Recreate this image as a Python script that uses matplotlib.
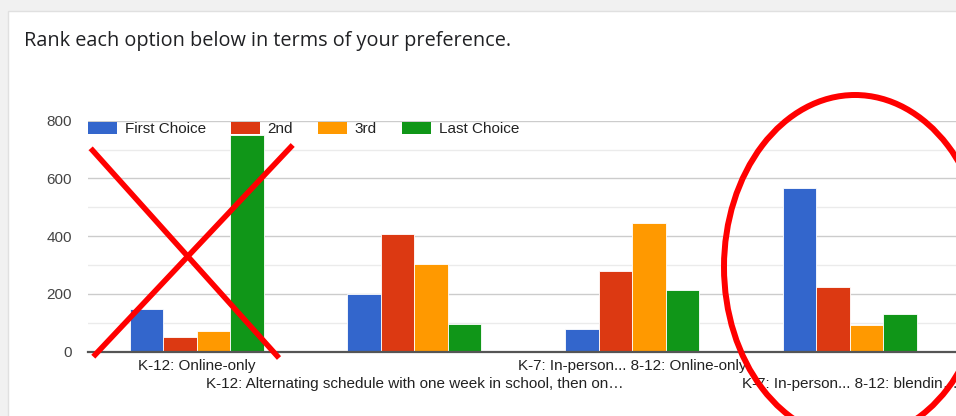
import matplotlib
matplotlib.use("Agg")
import matplotlib.pyplot as plt
import numpy as np
from matplotlib.patches import Rectangle, Ellipse, Patch
from matplotlib.lines import Line2D

# ---------------- data ----------------
categories = [
    "K-12: Online-only",
    "K-12: Alternating schedule with one week in school, then on\u2026",
    "K-7: In-person... 8-12: Online-only",
    "K-7: In-person... 8-12: blendin\u2026",
]
series_names = ["First Choice", "2nd", "3rd", "Last Choice"]
first_choice = [146, 198, 79, 565]
second = [49, 408, 279, 224]
third = [70, 305, 444, 92]
last_choice = [751, 96, 212, 131]
y_ticks = [0, 200, 400, 600, 800]

series_values = [first_choice, second, third, last_choice]
colors = ["#3366cc", "#dc3912", "#ff9900", "#109618"]

W, H = 956, 416
fig = plt.figure(figsize=(W / 100, H / 100), dpi=100)
fig.patch.set_facecolor("#f1f1f1")

def fx(px):
    return px / W

def fy(py):
    return 1 - py / H

# card background
card = Rectangle((fx(8), fy(H + 20)), fx(W + 20), (H + 9) / H, transform=fig.transFigure,
                 facecolor="white", edgecolor="#e0e0e0", lw=1.0, zorder=-5)
fig.add_artist(card)

# title
fig.text(fx(24), fy(46), "Rank each option below in terms of your preference.",
         fontsize=14.3, family="Open Sans", color="#202124", ha="left", va="baseline")

# axes
left_px, right_px = 87.9, 958.5
bottom_px, top_px = 351.5, 120.7
ax = fig.add_axes([fx(left_px), fy(bottom_px), fx(right_px - left_px), (bottom_px - top_px) / H])
ax.set_facecolor("white")

x = np.arange(len(categories))
bw = 0.154
for i, (name, vals, c) in enumerate(zip(series_names, series_values, colors)):
    ax.bar(x + (i - 1.5) * bw, vals, width=bw, color=c, edgecolor="white", linewidth=0.6,
           label=name, zorder=3)

ax.set_xlim(-0.5, len(categories) - 0.5)
ax.set_ylim(0, 800)
ax.set_yticks(y_ticks)
ax.set_yticks([100, 300, 500, 700], minor=True)
ax.yaxis.grid(True, which="major", color="#cccccc", lw=1.0, zorder=0)
ax.yaxis.grid(True, which="minor", color="#ebebeb", lw=1.0, zorder=0)
ax.set_axisbelow(True)
for s in ["left", "right", "top"]:
    ax.spines[s].set_visible(False)
ax.spines["bottom"].set_color("#555555")
ax.spines["bottom"].set_linewidth(1.6)
ax.spines["bottom"].set_zorder(4)

ax.tick_params(axis="y", which="both", length=0, pad=11.5, labelsize=11,
               labelcolor="#444444")
ax.tick_params(axis="x", length=0, pad=5.5, labelsize=11, labelcolor="#222222")
for lab in ax.get_yticklabels():
    lab.set_family("Liberation Sans")

ax.set_xticks(x)
ax.set_xticklabels(categories, family="Liberation Sans")
for i, tick in enumerate(ax.xaxis.get_major_ticks()):
    if i % 2 == 1:
        tick.set_pad(5.5 + 13.0)

handles = [Patch(facecolor=c, edgecolor="none") for c in colors]
leg = ax.legend(handles, series_names, loc="upper left", ncol=4,
                bbox_to_anchor=(fx(88), fy(121.5)), bbox_transform=fig.transFigure,
                frameon=False, borderpad=0, borderaxespad=0, handlelength=1.9,
                handleheight=0.85, handletextpad=0.5, columnspacing=1.64,
                prop={"family": "Liberation Sans", "size": 11})
for t in leg.get_texts():
    t.set_color("#222222")
leg.set_zorder(6)

# red hand-drawn annotations
red = "#ff0000"
fig.add_artist(Line2D([fx(90.7), fx(279)], [fy(148.3), fy(358)], transform=fig.transFigure,
                      color=red, lw=4.0, zorder=10, solid_capstyle="butt"))
fig.add_artist(Line2D([fx(292.7), fx(93.3)], [fy(145), fy(356.7)], transform=fig.transFigure,
                      color=red, lw=4.0, zorder=10, solid_capstyle="butt"))
fig.add_artist(Ellipse((fx(855), fy(267)), fx(262), 344 / H, transform=fig.transFigure,
                       facecolor="none", edgecolor=red, lw=4.3, zorder=10))

fig.savefig("out.png", dpi=100, facecolor=fig.get_facecolor())
